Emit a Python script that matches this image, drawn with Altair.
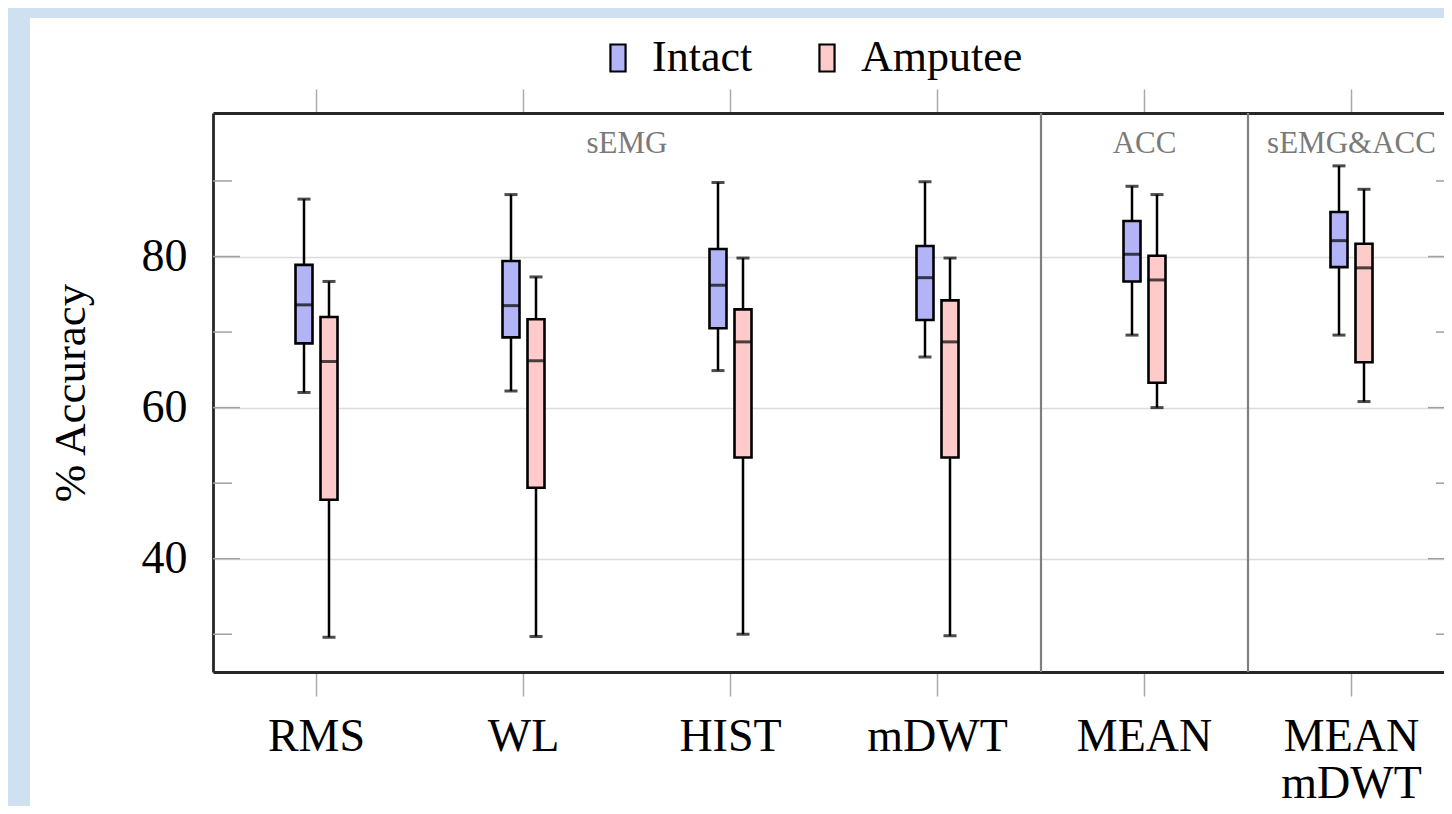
import altair as alt
import pandas as pd

# ---------------- data ----------------
categories = ["RMS", "WL", "HIST", "mDWT", "MEAN", "MEAN mDWT"]
sections = ["sEMG", "sEMG", "sEMG", "sEMG", "ACC", "sEMG&ACC"]
groups = ["Intact", "Amputee"]

intact_min = [62.0, 62.2, 64.9, 66.7, 69.6, 69.6]
intact_q1 = [68.5, 69.3, 70.5, 71.6, 76.7, 78.6]
intact_med = [73.6, 73.5, 76.2, 77.2, 80.3, 82.1]
intact_q3 = [78.9, 79.4, 81.0, 81.4, 84.7, 85.9]
intact_max = [87.6, 88.2, 89.8, 89.9, 89.3, 92.0]

amputee_min = [29.6, 29.7, 30.0, 29.8, 60.0, 60.8]
amputee_q1 = [47.8, 49.4, 53.4, 53.4, 63.3, 66.0]
amputee_med = [66.1, 66.2, 68.7, 68.7, 76.9, 78.5]
amputee_q3 = [72.0, 71.7, 73.0, 74.2, 80.1, 81.7]
amputee_max = [76.7, 77.3, 79.8, 79.8, 88.2, 88.9]

y_major = [40, 60, 80]
y_minor = [30, 50, 70, 90]
y_domain = [25, 99]

# ---------------- tables ----------------
rows = []
stats = {
    "Intact": (intact_min, intact_q1, intact_med, intact_q3, intact_max),
    "Amputee": (amputee_min, amputee_q1, amputee_med, amputee_q3, amputee_max),
}
for g in groups:
    mn, q1, md, q3, mx = stats[g]
    for i, c in enumerate(categories):
        rows.append(dict(cat=c, group=g, lo=mn[i], q1=q1[i], med=md[i], q3=q3[i], hi=mx[i]))
df = pd.DataFrame(rows)

sec_names = list(dict.fromkeys(sections))
sec_cats = {s: [c for c, ss in zip(categories, sections) if ss == s] for s in sec_names}
sep_df = pd.DataFrame({"cat": [sec_cats[s][0] for s in sec_names[1:]]})
even_rows, odd_rows = [], []
for s in sec_names:
    cs = sec_cats[s]
    (even_rows if len(cs) % 2 == 0 else odd_rows).append(dict(cat=cs[len(cs) // 2], label=s))
sec_even = pd.DataFrame(even_rows)
sec_odd = pd.DataFrame(odd_rows)

major_df = pd.DataFrame({"v": y_major})
minor_df = pd.DataFrame({"v": y_minor})
one = pd.DataFrame({"a": [0]})

# ---------------- layout ----------------
W, H = 1231, 559
RANGE = 1242
STEP = RANGE / len(categories)
PL, PT, PB = 205, 105, 134
FONT = "Liberation Serif"
FRAME = "#262626"

x_scale = alt.Scale(domain=categories, range=[0, RANGE], paddingInner=0, paddingOuter=0)
xo = alt.XOffset("group:N", scale=alt.Scale(domain=groups, range=[STEP / 2 - 25, STEP / 2 + 25]))
y_scale = alt.Scale(domain=y_domain, nice=False, zero=False)

y_axis = alt.Axis(values=y_major, grid=True, gridColor="#dcdcdc", gridWidth=1.5,
                  ticks=False, tickSize=0, domain=True, domainColor=FRAME, domainWidth=2.8,
                  labelFontSize=46, labelPadding=26, labelFont=FONT, labelColor="black",
                  title="% Accuracy", titleFont=FONT, titleFontSize=45, titleFontWeight="normal",
                  titleColor="black", titleX=-143, titleY=H / 2, titleAngle=270,
                  titleAlign="center", titleBaseline="middle")

x_bottom = alt.Axis(orient="bottom", title=None, labelAngle=0, labelFont=FONT, labelFontSize=46,
                    labelColor="black", labelPadding=18, labelExpr="split(datum.label, ' ')",
                    labelLineHeight=47, labelOverlap=False, tickSize=24, tickColor="#aaaaaa",
                    tickWidth=1.5, domainColor=FRAME, domainWidth=2.8, grid=False)
x_top = alt.Axis(orient="top", title=None, labels=False, tickSize=24, tickColor="#aaaaaa",
                 tickWidth=1.5, domainColor=FRAME, domainWidth=2.8, grid=False)


def X(axis=None, **kw):
    return alt.X("cat:N", scale=x_scale, axis=axis, **kw)


def Y(field, axis=y_axis):
    return alt.Y(f"{field}:Q", scale=y_scale, axis=axis)


BLUE_BG = "#cfe0f1"
strip_left = alt.Chart(one).mark_rect(color=BLUE_BG).encode(
    x=alt.value(-PL), x2=alt.value(-PL + 22), y=alt.value(-PT), y2=alt.value(H + PB))
strip_top = alt.Chart(one).mark_rect(color=BLUE_BG).encode(
    x=alt.value(-PL), x2=alt.value(RANGE), y=alt.value(-PT), y2=alt.value(-PT + 10))

tick_col = "#a0a0a0"
left_major = alt.Chart(major_df).mark_rule(color=tick_col, strokeWidth=1.5).encode(
    y=Y("v"), x=alt.value(0), x2=alt.value(27))
left_minor = alt.Chart(minor_df).mark_rule(color=tick_col, strokeWidth=1.5).encode(
    y=Y("v"), x=alt.value(0), x2=alt.value(19))
right_major = alt.Chart(major_df).mark_rule(color=tick_col, strokeWidth=1.5).encode(
    y=Y("v"), x=alt.value(RANGE - 27), x2=alt.value(RANGE))
right_minor = alt.Chart(minor_df).mark_rule(color=tick_col, strokeWidth=1.5).encode(
    y=Y("v"), x=alt.value(RANGE - 19), x2=alt.value(RANGE))

seps = alt.Chart(sep_df).mark_rule(color="#7f7f7f", strokeWidth=2.2).encode(
    x=X(bandPosition=0), y=alt.value(0), y2=alt.value(H))

txt = dict(font=FONT, fontSize=31, color="#7a7a7a", baseline="middle", align="center")
sec_lab_even = alt.Chart(sec_even).mark_text(**txt).encode(
    x=X(bandPosition=0), y=alt.value(31), text="label:N")
sec_lab_odd = alt.Chart(sec_odd).mark_text(**txt).encode(
    x=X(), y=alt.value(31), text="label:N")

whisk = alt.Chart(df).mark_rule(color="black", strokeWidth=2.5).encode(
    x=X(axis=x_top), xOffset=xo, y=Y("lo"), y2="hi:Q")

caps = alt.Chart(df).transform_fold(["lo", "hi"], as_=["k", "val"]).mark_tick(
    color="black", size=13, thickness=3).encode(x=X(), xOffset=xo, y=Y("val"))

boxes = alt.Chart(df).mark_bar(size=17, stroke="black", strokeWidth=2.6).encode(
    x=X(axis=x_bottom), xOffset=xo, y=Y("q1"), y2="q3:Q",
    fill=alt.Fill("group:N", scale=alt.Scale(domain=groups, range=["#b3b3f7", "#ffcaca"]),
                  legend=alt.Legend(orient="none", legendX=383, legendY=-77, direction="horizontal",
                                    title=None, padding=0,
                                    symbolType="M-0.56,-1L0.56,-1L0.56,1L-0.56,1Z",
                                    symbolSize=729, symbolStrokeColor="black", symbolStrokeWidth=2.2,
                                    labelFont=FONT, labelFontSize=44, labelColor="black",
                                    labelLimit=400, labelOffset=12, columnPadding=52)))

medians = alt.Chart(df).mark_tick(color="black", size=17, thickness=3).encode(
    x=X(), xOffset=xo, y=Y("med"))

chart = alt.layer(
    strip_left, strip_top, left_major, left_minor, right_major, right_minor, seps,
    sec_lab_even, sec_lab_odd, whisk, caps, boxes, medians
).resolve_axis(x="independent").properties(
    width=W, height=H,
    padding={"left": PL, "top": PT, "right": 0, "bottom": PB},
    autosize=alt.AutoSizeParams(type="none"),
    background="white",
).configure_view(stroke="transparent")

chart.save("out.html", embed_options={"renderer": "svg", "actions": False})
